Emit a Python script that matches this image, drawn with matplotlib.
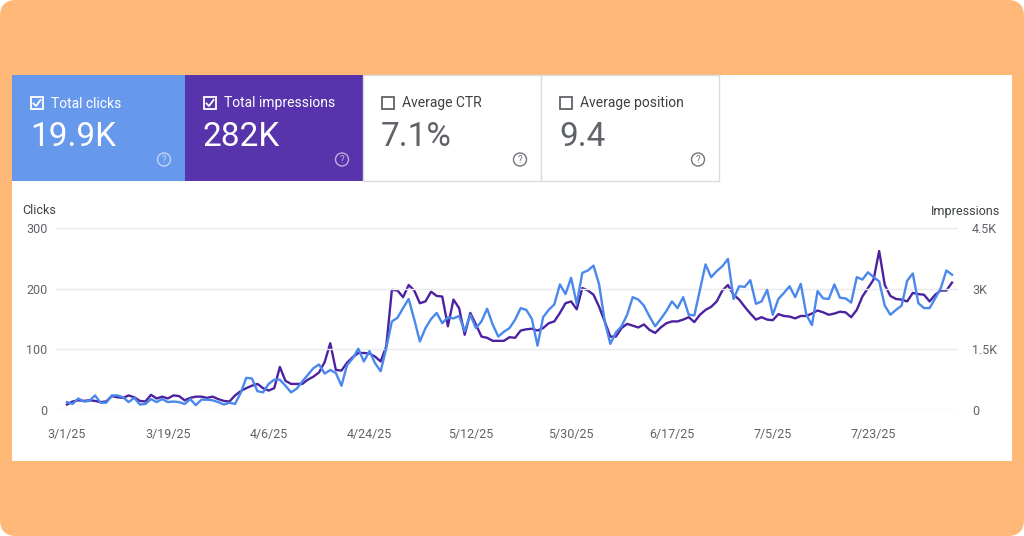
import numpy as np
import pandas as pd
import matplotlib
matplotlib.use('Agg')
from matplotlib import pyplot as plt
from matplotlib.patches import Rectangle, FancyBboxPatch, Circle
from matplotlib.ticker import FuncFormatter
import matplotlib.dates as mdates

plt.rcParams['font.family'] = ['Roboto', 'DejaVu Sans']

# 数据 -----------------------
dates = pd.date_range('2025-03-01', periods=159, freq='D')

clicks = [13, 10, 19, 14, 15, 24, 12, 12, 24, 24,
          21, 13, 20, 9, 10, 18, 13, 18, 13, 14,
          13, 10, 18, 8, 17, 17, 16, 13, 9, 12,
          10, 28, 53, 52, 31, 29, 43, 50, 50, 40,
          29, 35, 47, 58, 69, 75, 60, 66, 61, 40,
          74, 85, 101, 80, 97, 77, 64, 102, 146, 152,
          168, 183, 149, 113, 135, 150, 160, 143, 153, 151,
          155, 130, 157, 135, 146, 167, 141, 121, 129, 135,
          149, 168, 165, 150, 106, 153, 165, 174, 207, 191,
          218, 175, 226, 230, 238, 207, 146, 109, 128, 138,
          157, 186, 182, 172, 154, 138, 150, 163, 179, 168,
          186, 157, 156, 198, 240, 219, 229, 237, 249, 183,
          204, 203, 214, 175, 179, 198, 157, 183, 193, 204,
          186, 208, 157, 140, 196, 184, 183, 207, 185, 184,
          177, 219, 215, 227, 219, 212, 172, 157, 165, 172,
          213, 225, 176, 168, 168, 184, 201, 230, 223]

impressions = [9, 14, 16, 15, 16, 15, 13, 14, 23, 21,
               20, 24, 21, 15, 14, 25, 19, 22, 19, 24,
               23, 16, 20, 22, 22, 20, 22, 18, 15, 14,
               24, 31, 36, 40, 43, 36, 32, 36, 71, 48,
               43, 43, 43, 50, 55, 62, 79, 110, 66, 65,
               78, 87, 94, 94, 93, 88, 80, 105, 198, 197,
               186, 206, 197, 176, 179, 195, 188, 187, 138, 182,
               168, 124, 160, 141, 121, 119, 114, 114, 114, 120,
               119, 131, 133, 134, 131, 135, 143, 146, 160, 176,
               179, 166, 201, 197, 190, 170, 146, 121, 121, 135,
               142, 139, 136, 141, 132, 127, 136, 143, 146, 146,
               149, 153, 145, 157, 165, 170, 179, 197, 206, 190,
               182, 170, 159, 149, 153, 149, 148, 158, 155, 154,
               151, 155, 155, 159, 164, 161, 157, 159, 162, 161,
               153, 165, 187, 201, 215, 262, 206, 188, 183, 182,
               179, 193, 191, 190, 179, 190, 197, 197, 210]
impressions = np.array(impressions) * 15  # 右轴刻度 0-4.5K

cards = ['Total clicks', 'Total impressions', 'Average CTR', 'Average position']
card_values = ['19.9K', '282K', '7.1%', '9.4']
card_checked = [True, True, False, False]

left_ticks = [0, 100, 200, 300]
right_ticks = [0, 1500, 3000, 4500]
right_labels = ['0', '1.5K', '3K', '4.5K']

W, H = 1024, 536
blue = '#4a88ec'
purple = '#4b22a0'
card_colors = ['#6698ec', '#5834ac', 'white', 'white']

fig = plt.figure(figsize=(W / 100, H / 100), dpi=100)
fig.patch.set_facecolor('white')

# 背景画布，像素坐标
bg = fig.add_axes([0, 0, 1, 1])
bg.set_xlim(0, W)
bg.set_ylim(H, 0)
bg.axis('off')
bg.add_patch(FancyBboxPatch((0, 0), W, H, boxstyle='round,pad=0,rounding_size=16',
                            fc='#ffb877', ec='none'))
bg.add_patch(Rectangle((12, 75), 1000, 386, fc='white', ec='none'))

card_x = [12, 185, 363, 541]
card_w = [173, 178, 178, 178]
for i in range(4):
    x0 = card_x[i]
    filled = card_colors[i] != 'white'
    if filled:
        bg.add_patch(Rectangle((x0, 75), card_w[i], 106, fc=card_colors[i], ec='none'))
        fg = 'white'
        qcol = '#ffffff'
        qalpha = 0.6
    else:
        bg.add_patch(Rectangle((x0, 75), card_w[i], 106, fc='white', ec='#dadce0', lw=1))
        fg = '#5f6368'
        qcol = '#70757a'
        qalpha = 1.0
    # 复选框
    bx, by = x0 + 19, 97
    bg.add_patch(Rectangle((bx, by), 12, 12, fc='none', ec=fg if filled else '#5f6368', lw=1.3))
    if card_checked[i]:
        bg.plot([bx + 2.5, bx + 5, bx + 9.5], [by + 6.5, by + 9, by + 3], color=fg, lw=1.3)
    bg.text(x0 + 39, 103.5, cards[i], color=fg if filled else '#3c4043', fontsize=10,
            ha='left', va='center')
    bg.text(x0 + 18, 137, card_values[i], color=fg if filled else '#5f6368', fontsize=24,
            ha='left', va='center')
    cx, cy = x0 + card_w[i] - 21, 159.5
    bg.add_patch(Circle((cx, cy), 6.5, fc='none', ec=qcol, lw=1, alpha=qalpha))
    bg.text(cx, cy + 0.5, '?', color=qcol, alpha=qalpha, fontsize=7, ha='center', va='center')

bg.text(22, 211, 'Clicks', color='#3c4043', fontsize=9, ha='left', va='center')
bg.text(1000, 211, 'Impressions', color='#3c4043', fontsize=9, ha='right', va='center')

# 折线图 -----------------------
ax = fig.add_axes([56 / W, 1 - 410 / H, 902 / W, 182 / H])
ax2 = ax.twinx()
ax.set_zorder(ax2.get_zorder() + 1)
ax.patch.set_visible(False)

x0_num = mdates.date2num(dates[0])
px_day = 5.6
ax.set_xlim(x0_num - 11 / px_day, x0_num + 158 + 6 / px_day)
ax.set_ylim(0, 300)
ax2.set_ylim(0, 4500)

ax2.plot(dates, impressions, color=purple, lw=1.7, zorder=2)
ax.plot(dates, clicks, color=blue, lw=1.7, zorder=3)

ax.set_yticks(left_ticks)
ax2.set_yticks(right_ticks)
ax2.set_yticklabels(right_labels)
ax.grid(axis='y', color='#e8eaed', lw=1)
ax.set_axisbelow(True)

xt = [dates[0] + pd.Timedelta(days=18 * k) for k in range(9)]
ax.set_xticks(xt)
ax.xaxis.set_major_formatter(FuncFormatter(
    lambda v, p: '%d/%d/%02d' % (mdates.num2date(v).month, mdates.num2date(v).day,
                                 mdates.num2date(v).year % 100)))

for a in (ax, ax2):
    for s in a.spines.values():
        s.set_visible(False)
    a.tick_params(length=0, labelsize=9, labelcolor='#5f6368')
ax.tick_params(axis='y', pad=6)
ax2.tick_params(axis='y', pad=10)
ax.tick_params(axis='x', pad=13)

fig.savefig('out.png', dpi=100)
